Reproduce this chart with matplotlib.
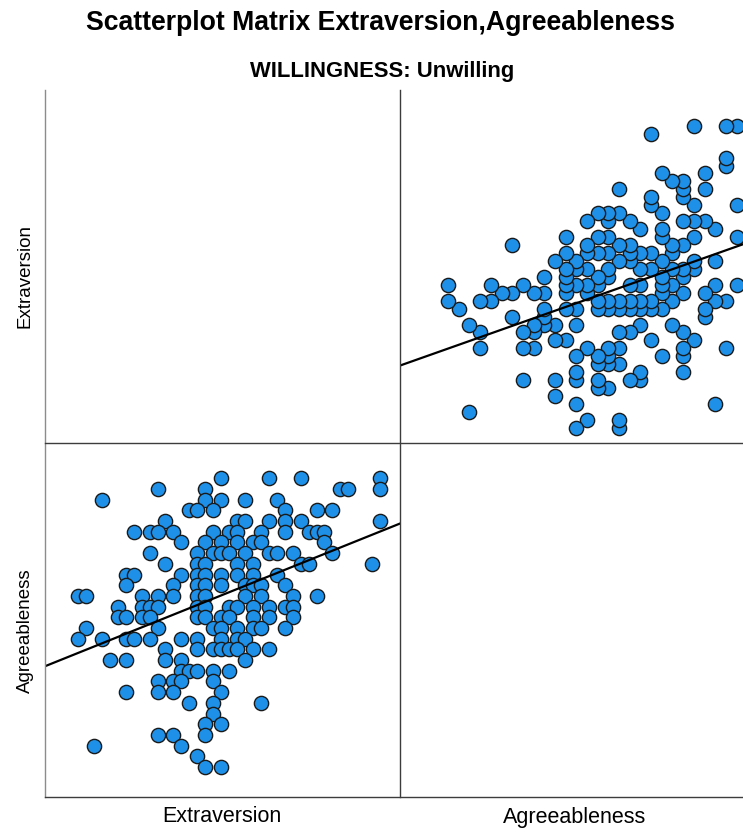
import numpy as np
import matplotlib.pyplot as plt
from matplotlib.lines import Line2D

plt.rcParams['font.family'] = ['Liberation Sans', 'DejaVu Sans']

var_names = ['Extraversion', 'Agreeableness']

# Agreeableness score levels and the Extraversion scores of the cases at each level
agree_levels = [45, 44, 43, 42, 41, 40, 39, 38, 37, 36, 35, 34, 33, 32,
                31, 30, 29, 28, 27, 26, 25, 24, 23, 22, 21, 20, 19, 18]
extra_by_level = [
    [30, 36, 40, 50],
    [22, 28, 45, 46, 50],
    [15, 28, 30, 33, 37],
    [26, 27, 29, 38, 42, 44],
    [23, 32, 33, 36, 38, 40, 50],
    [19, 21, 22, 24, 29, 31, 32, 35, 38, 41, 42, 43],
    [25, 28, 30, 32, 34, 35, 43],
    [21, 27, 29, 30, 31, 33, 36, 37, 39, 44],
    [23, 27, 28, 32, 34, 40, 41, 49],
    [18, 19, 25, 27, 28, 30, 32, 34, 37],
    [18, 24, 27, 28, 30, 33, 34, 35, 38],
    [12, 13, 20, 22, 24, 27, 28, 33, 35, 39, 42],
    [17, 20, 21, 22, 27, 28, 31, 32, 34, 36, 38, 39],
    [17, 18, 20, 21, 27, 28, 30, 31, 34, 36, 39],
    [13, 22, 29, 30, 32, 34, 35, 38],
    [12, 15, 18, 19, 21, 25, 27, 30, 32, 33],
    [23, 27, 29, 30, 31, 32, 34, 36],
    [16, 18, 23, 25, 33],
    [25, 26, 27, 29, 31],
    [22, 24, 25, 29],
    [18, 22, 24, 30],
    [26, 29, 35],
    [29],
    [28, 30],
    [22, 24, 28],
    [14, 25],
    [27],
    [28, 30],
]

E = np.array([e for row in extra_by_level for e in row], dtype=float)
A = np.array([lv for lv, row in zip(agree_levels, extra_by_level) for _ in row],
             dtype=float)

W, H = 743, 834
fig = plt.figure(figsize=(W / 100, H / 100), dpi=100)


def px_axes(x0, y0, x1, y1):
    # axes from a pixel box, origin at top-left
    ax = fig.add_axes([x0 / W, 1 - y1 / H, (x1 - x0) / W, (y1 - y0) / H])
    ax.set_xticks([])
    ax.set_yticks([])
    for s in ax.spines.values():
        s.set_visible(False)
    ax.patch.set_alpha(0)
    return ax


pt_kw = dict(s=105, c='#1e90e8', edgecolors='#1a1a1a', linewidths=1.0, zorder=3)

# bottom-left: x = Extraversion, y = Agreeableness
ax_bl = px_axes(45, 443, 400, 797)
ax_bl.set_xlim(7.85, 52.5)
ax_bl.set_ylim(15.2, 48.3)
ax_bl.scatter(E, A, **pt_kw)
b, a = np.polyfit(E, A, 1)
xs = np.array(ax_bl.get_xlim())
ax_bl.plot(xs, a + b * xs, color='black', lw=1.6, zorder=4)

# top-right: x = Agreeableness, y = Extraversion
ax_tr = px_axes(400, 90, 743, 443)
ax_tr.set_xlim(13.5, 45.6)
ax_tr.set_ylim(10.1, 54.5)
ax_tr.scatter(A, E, **pt_kw)
b2, a2 = np.polyfit(A, E, 1)
xs2 = np.array(ax_tr.get_xlim())
ax_tr.plot(xs2, a2 + b2 * xs2, color='black', lw=1.6, zorder=4)

# panel frame lines
frame = [
    ((45, 45), (90, 797), '#8c8c8c'),
    ((400, 400), (90, 797), '#3c3c3c'),
    ((45, 743), (443, 443), '#3c3c3c'),
    ((45, 743), (797, 797), '#3c3c3c'),
]
for (x0, x1), (y0, y1), col in frame:
    fig.add_artist(Line2D([x0 / W, x1 / W], [1 - y0 / H, 1 - y1 / H],
                          color=col, lw=1.0))

fig.text(380 / W, 1 - 23 / H, 'Scatterplot Matrix Extraversion,Agreeableness',
         ha='center', va='center', fontsize=19.2, fontweight='bold')
fig.text(382 / W, 1 - 72 / H, 'WILLINGNESS: Unwilling',
         ha='center', va='center', fontsize=15.8, fontweight='bold')

fig.text(222 / W, 1 - 817 / H, var_names[0], ha='center', va='center', fontsize=15.5)
fig.text(575 / W, 1 - 817 / H, var_names[1], ha='center', va='center', fontsize=15.5)
fig.text(25 / W, 1 - 276 / H, var_names[0], ha='center', va='center',
         rotation=90, fontsize=13.5)
fig.text(25 / W, 1 - 631 / H, var_names[1], ha='center', va='center',
         rotation=90, fontsize=13.5)

fig.savefig('out.png', dpi=100, facecolor='white')
